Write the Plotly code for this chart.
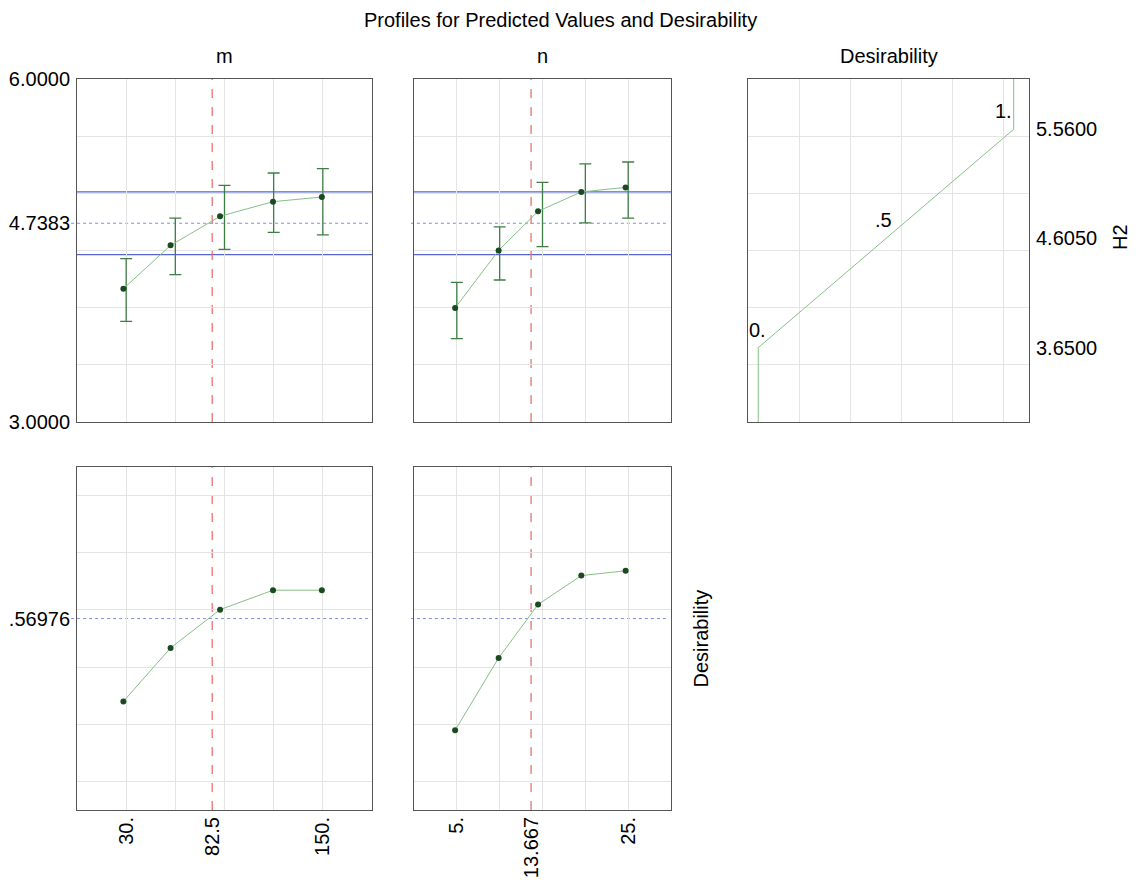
import plotly.graph_objects as go

# ---------------- data ----------------
m_levels = [30, 60, 90, 120, 150]
m_dot_x = [28.3, 57.1, 87.3, 119.6, 149.4]
m_h2 = [4.166, 4.545, 4.799, 4.927, 4.968]
m_h2_upper = [4.429, 4.784, 5.070, 5.178, 5.216]
m_h2_lower = [3.880, 4.289, 4.510, 4.659, 4.636]
m_desir = [0.280, 0.467, 0.601, 0.669, 0.669]

n_levels = [5, 10, 15, 20, 25]
n_dot_x = [4.8, 9.88, 14.48, 19.53, 24.7]
n_h2 = [3.997, 4.501, 4.843, 5.012, 5.052]
n_h2_upper = [4.222, 4.706, 5.096, 5.257, 5.274]
n_h2_lower = [3.729, 4.242, 4.534, 4.741, 4.784]
n_desir = [0.179, 0.432, 0.619, 0.720, 0.737]

current_m = 82.5
current_n = 13.667
pred_h2 = 4.7383
h2_ci_lower = 4.4633
h2_ci_upper = 5.0133
pred_desir = 0.56976

desir_x = [0, 0, 1, 1]
desir_h2 = [3.0, 3.65, 5.56, 6.03]
desir_label_vals = [0, 0.5, 1]
desir_label_h2 = [3.65, 4.605, 5.56]
desir_label_text = ["0.", ".5", "1."]

m_ticks = [30, 82.5, 150]
m_ticktext = ["30.", "82.5", "150."]
n_ticks = [5, 13.667, 25]
n_ticktext = ["5.", "13.667", "25."]
h2_ticks = [3.0, pred_h2, 6.0]
h2_ticktext = ["3.0000", "4.7383", "6.0000"]
h2_right_ticks = [3.65, 4.605, 5.56]
h2_right_ticktext = ["3.6500", "4.6050", "5.5600"]
desir_ticks = [pred_desir]
desir_ticktext = [".56976"]

h2_grid = [3.5, 4.0, 4.5, 5.0, 5.5]
desir_grid = [0, 0.2, 0.4, 0.6, 0.8, 1.0]
dx_grid = [0.16, 0.36, 0.56, 0.76, 0.96]

# ---------------- style ----------------
OFF = 8                      # page body margin of the browser
W, H = 1139 - OFF, 883 - OFF
FONT = "Liberation Sans, Arial, Helvetica, sans-serif"
FS = 20
GRID = "#e4e4e4"
BORDER = "#555555"
LINE_G = "#86c086"
DOT_G = "#1a4a1f"
ERR_G = "#3e7d44"
BLUE = "#5566d0"
BLUE_DOT = "#8090e0"
RED = "#f07070"
Y_STANDOFF = 2
X_STANDOFF = -2


def px(x):
    return (x - OFF) / W


def py(y):
    return 1 - (y - OFF) / H


dom_m = [px(77), px(372)]
dom_n = [px(414), px(671)]
dom_d = [px(748), px(1029)]
dom_top = [py(422), py(79)]
dom_bot = [py(810), py(467)]

fig = go.Figure()


def err_trace(xs, lo, hi, xa, ya):
    return go.Scatter(
        x=xs, y=lo, xaxis=xa, yaxis=ya, mode="markers",
        marker=dict(size=1, color="rgba(0,0,0,0)"),
        error_y=dict(type="data", symmetric=False,
                     array=[h - l for h, l in zip(hi, lo)],
                     arrayminus=[0] * len(lo),
                     color=ERR_G, thickness=1.3, width=6),
        showlegend=False, hoverinfo="skip")


def prof_trace(xs, ys, xa, ya):
    return go.Scatter(
        x=xs, y=ys, xaxis=xa, yaxis=ya, mode="lines+markers",
        line=dict(color=LINE_G, width=1),
        marker=dict(color=DOT_G, size=6),
        showlegend=False)


fig.add_trace(err_trace(m_levels, m_h2_lower, m_h2_upper, "x", "y"))
fig.add_trace(prof_trace(m_dot_x, m_h2, "x", "y"))
fig.add_trace(err_trace(n_levels, n_h2_lower, n_h2_upper, "x2", "y2"))
fig.add_trace(prof_trace(n_dot_x, n_h2, "x2", "y2"))
fig.add_trace(go.Scatter(x=desir_x, y=desir_h2, xaxis="x3", yaxis="y3",
                         mode="lines", line=dict(color=LINE_G, width=1),
                         showlegend=False))
fig.add_trace(prof_trace(m_dot_x, m_desir, "x4", "y4"))
fig.add_trace(prof_trace(n_dot_x, n_desir, "x5", "y5"))

base = dict(showline=True, mirror=True, linecolor=BORDER, linewidth=1,
            zeroline=False, automargin=False,
            tickfont=dict(family=FONT, size=FS, color="black"))

layout = dict(
    width=W, height=H,
    margin=dict(l=0, r=0, t=0, b=0, autoexpand=False),
    paper_bgcolor="white", plot_bgcolor="white",
    showlegend=False,
    font=dict(family=FONT, size=FS, color="black"),
)

# x axes
layout["xaxis"] = dict(base, domain=dom_m, anchor="y", range=[0, 180],
                       tickvals=m_levels, showticklabels=False, ticks="",
                       showgrid=True, gridcolor=GRID)
layout["xaxis2"] = dict(base, domain=dom_n, anchor="y2", range=[0, 30],
                        tickvals=n_levels, showticklabels=False, ticks="",
                        showgrid=True, gridcolor=GRID)
layout["xaxis3"] = dict(base, domain=dom_d, anchor="y3", range=[-0.04, 1.06],
                        tickvals=dx_grid, showticklabels=False, ticks="",
                        showgrid=True, gridcolor=GRID)
layout["xaxis4"] = dict(base, domain=dom_m, anchor="y4", range=[0, 180],
                        tickvals=m_ticks, ticktext=m_ticktext, tickangle=-90,
                        ticks="outside", ticklen=0, ticklabelstandoff=X_STANDOFF,
                        showgrid=False,
                        minor=dict(tickvals=m_levels, showgrid=True,
                                   gridcolor=GRID, ticks="inside", ticklen=0))
layout["xaxis5"] = dict(base, domain=dom_n, anchor="y5", range=[0, 30],
                        tickvals=n_ticks, ticktext=n_ticktext, tickangle=-90,
                        ticks="outside", ticklen=0, ticklabelstandoff=X_STANDOFF,
                        showgrid=False,
                        minor=dict(tickvals=n_levels, showgrid=True,
                                   gridcolor=GRID, ticks="inside", ticklen=0))

# y axes
layout["yaxis"] = dict(base, domain=dom_top, anchor="x", range=[3, 6],
                       tickvals=h2_ticks, ticktext=h2_ticktext,
                       ticks="outside", ticklen=0, ticklabelstandoff=Y_STANDOFF,
                       showgrid=False,
                       minor=dict(tickvals=h2_grid, showgrid=True,
                                  gridcolor=GRID, ticks="inside", ticklen=0))
layout["yaxis2"] = dict(base, domain=dom_top, anchor="x2", range=[3, 6],
                        tickvals=h2_grid, showticklabels=False, ticks="",
                        showgrid=True, gridcolor=GRID)
layout["yaxis3"] = dict(base, domain=dom_top, anchor="x3", range=[3, 6],
                        side="right",
                        tickvals=h2_right_ticks, ticktext=h2_right_ticktext,
                        ticks="outside", ticklen=0, ticklabelstandoff=Y_STANDOFF,
                        showgrid=False,
                        minor=dict(tickvals=h2_grid, showgrid=True,
                                   gridcolor=GRID, ticks="inside", ticklen=0))
layout["yaxis4"] = dict(base, domain=dom_bot, anchor="x4", range=[-0.1, 1.1],
                        tickvals=desir_ticks, ticktext=desir_ticktext,
                        ticks="outside", ticklen=0, ticklabelstandoff=Y_STANDOFF,
                        showgrid=False,
                        minor=dict(tickvals=desir_grid, showgrid=True,
                                   gridcolor=GRID, ticks="inside", ticklen=0))
layout["yaxis5"] = dict(base, domain=dom_bot, anchor="x5", range=[-0.1, 1.1],
                        tickvals=desir_grid, showticklabels=False, ticks="",
                        showgrid=True, gridcolor=GRID)

fig.update_layout(**layout)

# ---------------- reference lines ----------------
shapes = []
for xa, ya, x0 in [("x", "y", -0.02), ("x2", "y2", -0.012)]:
    shapes.append(dict(type="line", xref=f"{xa} domain", yref=ya, x0=0, x1=1,
                       y0=h2_ci_upper, y1=h2_ci_upper,
                       line=dict(color=BLUE, width=1.3), layer="below"))
    shapes.append(dict(type="line", xref=f"{xa} domain", yref=ya, x0=0, x1=1,
                       y0=h2_ci_lower, y1=h2_ci_lower,
                       line=dict(color=BLUE, width=1.3), layer="below"))
    shapes.append(dict(type="line", xref=f"{xa} domain", yref=ya, x0=x0, x1=0.99,
                       y0=pred_h2, y1=pred_h2,
                       line=dict(color=BLUE_DOT, width=1, dash="dot"),
                       layer="below"))
for xa, ya, x0 in [("x4", "y4", -0.02), ("x5", "y5", -0.012)]:
    shapes.append(dict(type="line", xref=f"{xa} domain", yref=ya, x0=x0, x1=0.99,
                       y0=pred_desir, y1=pred_desir,
                       line=dict(color=BLUE_DOT, width=1, dash="dot"),
                       layer="below"))
for xa, ya, xv in [("x", "y", current_m), ("x4", "y4", current_m),
                   ("x2", "y2", current_n), ("x5", "y5", current_n)]:
    shapes.append(dict(type="line", xref=xa, yref=f"{ya} domain", x0=xv, x1=xv,
                       y0=0, y1=1, line=dict(color=RED, width=1.3, dash="dash"),
                       layer="below"))
fig.update_layout(shapes=shapes)

# ---------------- text ----------------
ann = []
ann.append(dict(text="Profiles for Predicted Values and Desirability",
                xref="paper", yref="paper", x=px(560), y=py(20),
                showarrow=False, font=dict(size=FS), xanchor="center", yanchor="middle"))
for t, dom in [("m", dom_m), ("n", dom_n), ("Desirability", dom_d)]:
    ann.append(dict(text=t, xref="paper", yref="paper", x=(dom[0] + dom[1]) / 2,
                    y=py(56), showarrow=False, font=dict(size=FS),
                    xanchor="center", yanchor="middle"))
ann.append(dict(text="H2", xref="paper", yref="paper", x=px(1120), y=py(237),
                showarrow=False, textangle=-90, font=dict(size=FS),
                xanchor="center", yanchor="middle"))
ann.append(dict(text="Desirability", xref="paper", yref="paper", x=px(700),
                y=(dom_bot[0] + dom_bot[1]) / 2, showarrow=False, textangle=-90,
                font=dict(size=FS), xanchor="center", yanchor="middle"))
anchors = ["center", "center", "right"]
shifts = [-1, -2, 0]
for v, h, t, a, s in zip(desir_label_vals, desir_label_h2, desir_label_text,
                         anchors, shifts):
    ann.append(dict(text=t, xref="x3", yref="y3", x=v, y=h, showarrow=False,
                    font=dict(size=FS), xanchor=a, yanchor="bottom",
                    xshift=s, yshift=5))
fig.update_layout(annotations=ann)

fig.write_html("out.html")
